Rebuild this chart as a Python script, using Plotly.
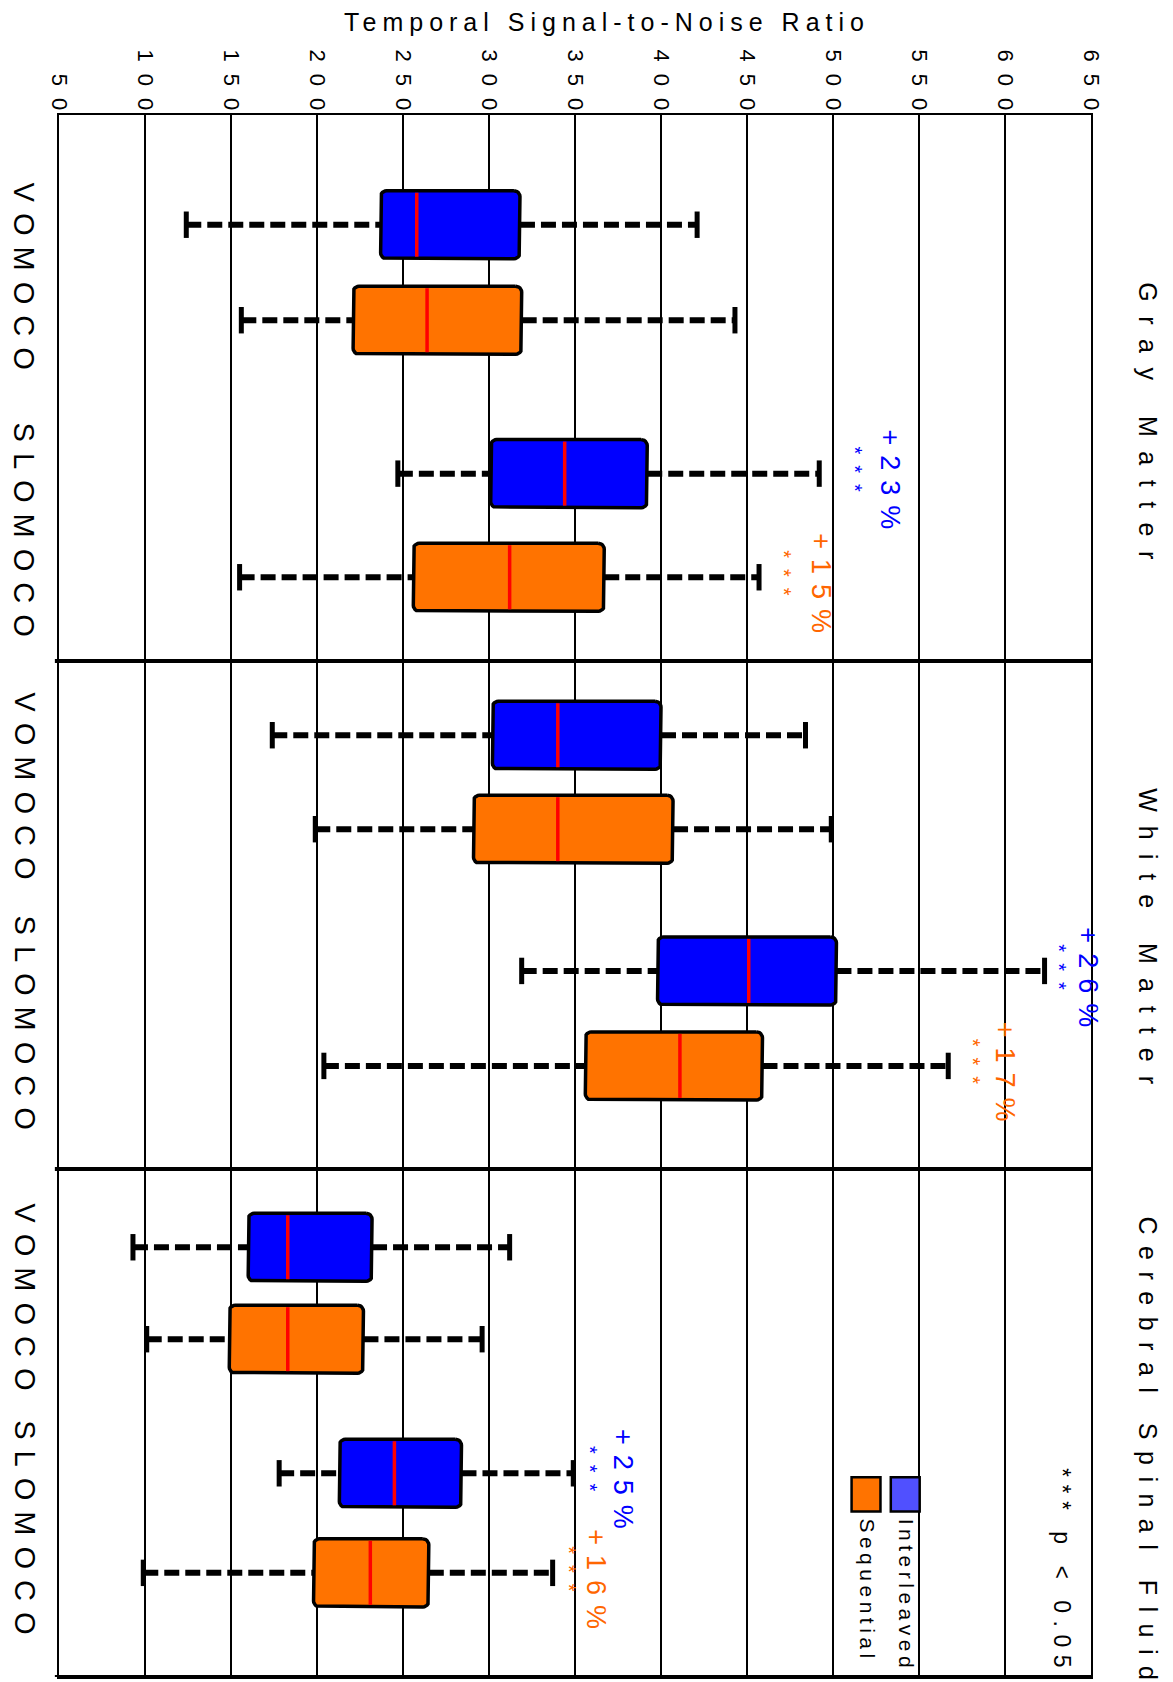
import math
import plotly.graph_objects as go

# Temporal SNR box statistics, indexed [tissue][method][sequence]
tissues = ["Gray Matter", "White Matter", "Cerebral Spinal Fluid"]
methods = ["VOMOCO", "SLOMOCO"]
sequences = ["Interleaved", "Sequential"]

whisker_low = [[[124, 156], [247, 155]],
               [[174, 199], [319, 204]],
               [[93, 101], [178, 99]]]
q1 = [[[237, 221], [301, 256]],
      [[302, 291], [398, 356]],
      [[160, 149], [213, 198]]]
median = [[[258, 264], [344, 312]],
          [[340, 340], [451, 411]],
          [[183, 183], [245, 231]]]
q3 = [[[318, 319], [392, 367]],
      [[400, 407], [502, 459]],
      [[232, 227], [284, 265]]]
whisker_high = [[[421, 443], [492, 457]],
                [[484, 499], [623, 567]],
                [[312, 296], [349, 337]]]

# SLOMOCO gain over VOMOCO (%), [tissue][sequence]
gain_pct = [[23, 15], [26, 17], [25, 16]]

tick_values = list(range(50, 651, 50))

# ---- styling / layout ----
FONT = "Liberation Sans, Arial, sans-serif"
BOX_FILL = ["#0000FF", "#FF7300"]
TEXT_COL = ["#0000FF", "#FF6600"]
LEGEND_FILL = ["#5050FF", "#FF7300"]
# row centres inside each tissue band (band height = 1 unit)
row_centres = [[0.141, 0.329, 0.631, 0.835],
               [0.146, 0.331, 0.610, 0.797],
               [0.154, 0.335, 0.599, 0.795]]
# pixel gap from the upper whisker cap to the "***" mark and to the gain label
mark_gap = [[(36, 71), (25, 62)],
            [(15, 44), (25, 57)],
            [(16, 49), (16, 43)]]
BOX_HALF = 0.067
CAP_HALF = 0.026
Y_TOP = -0.075
X_RANGE = (50, 650)
Y_RANGE = (3.0, Y_TOP)
PLOT_W, PLOT_H = 1032, 1564          # plot area in px
PX_X = PLOT_W / (X_RANGE[1] - X_RANGE[0])
PX_Y = PLOT_H / (Y_RANGE[0] - Y_RANGE[1])
CORNER_PX = 6


def spaced(text, px):
    """Letter-spaced text (no trailing space after the last glyph)."""
    if len(text) < 2:
        return text
    return f'<span style="letter-spacing:{px}px">{text[:-1]}</span>{text[-1]}'


def rounded_box(x0, x1, y0, y1, r_px=CORNER_PX, n=6):
    """Outline of a box with slightly rounded corners, in data units."""
    rx, ry = r_px / PX_X, r_px / PX_Y
    xs, ys = [], []
    corners = [(x1 - rx, y0 + ry, -90), (x1 - rx, y1 - ry, 0),
               (x0 + rx, y1 - ry, 90), (x0 + rx, y0 + ry, 180)]
    for cx, cy, start in corners:
        for k in range(n + 1):
            ang = math.radians(start + 90 * k / n)
            xs.append(cx + rx * math.cos(ang))
            ys.append(cy + ry * math.sin(ang))
    xs.append(xs[0])
    ys.append(ys[0])
    return xs, ys


fig = go.Figure()


def add_line(xs, ys, color="black", width=3, dash="solid"):
    fig.add_trace(go.Scatter(x=xs, y=ys, mode="lines", showlegend=False,
                             hoverinfo="skip",
                             line=dict(color=color, width=width, dash=dash)))


for t in range(len(tissues)):
    for m in range(len(methods)):
        for s in range(len(sequences)):
            yc = t + row_centres[t][2 * m + s]
            lo = whisker_low[t][m][s]
            a = q1[t][m][s]
            med = median[t][m][s]
            b = q3[t][m][s]
            hi = whisker_high[t][m][s]
            # whiskers
            add_line([lo, a], [yc, yc], width=6, dash="15px,6px")
            add_line([b, hi], [yc, yc], width=6, dash="15px,6px")
            add_line([lo, lo], [yc - CAP_HALF, yc + CAP_HALF], width=5)
            add_line([hi, hi], [yc - CAP_HALF, yc + CAP_HALF], width=5)
            # box
            bx, by = rounded_box(a, b, yc - BOX_HALF, yc + BOX_HALF)
            fig.add_trace(go.Scatter(
                x=bx, y=by, mode="lines", fill="toself", fillcolor=BOX_FILL[s],
                line=dict(color="black", width=3.5), showlegend=False,
                hoverinfo="skip"))
            # median
            add_line([med, med], [yc - BOX_HALF + 0.004, yc + BOX_HALF - 0.004],
                     color="#FF0000", width=3.5)

annotations = []

# significance marks and gains for SLOMOCO rows
for t in range(len(tissues)):
    for s in range(len(sequences)):
        yc = t + row_centres[t][2 + s]
        hi = whisker_high[t][1][s]
        g_mark, g_pct = mark_gap[t][s]
        annotations.append(dict(
            x=hi, y=yc, xref="x", yref="y", xshift=g_mark, yshift=4,
            text=spaced("***", 11), textangle=90, showarrow=False,
            font=dict(family=FONT, size=20, color=TEXT_COL[s])))
        annotations.append(dict(
            x=hi, y=yc, xref="x", yref="y", xshift=g_pct, yshift=-6,
            text=spaced(f"+{gain_pct[t][s]}%", 10), textangle=90, showarrow=False,
            font=dict(family=FONT, size=27, color=TEXT_COL[s])))

# method labels on the left
for t in range(len(tissues)):
    for m in range(len(methods)):
        yc = t + (row_centres[t][2 * m] + row_centres[t][2 * m + 1]) / 2
        annotations.append(dict(
            x=-0.033, y=yc + 0.008, xref="paper", yref="y", xanchor="center",
            yanchor="middle", text=spaced(methods[m], 11), textangle=90,
            showarrow=False, font=dict(family=FONT, size=29, color="black")))

# tissue labels on the right
tissue_label_start = [0.251, 1.246, 2.09]
tissue_label_spacing = [14.5, 14, 11.5]
for t in range(len(tissues)):
    annotations.append(dict(
        x=1.055, y=tissue_label_start[t], xref="paper", yref="y",
        xanchor="center", yanchor="top",
        text=spaced(tissues[t], tissue_label_spacing[t]),
        textangle=90, showarrow=False,
        font=dict(family=FONT, size=25, color="black")))

# axis title
annotations.append(dict(
    x=(604 - 59) / 1032, y=1, yref="paper", xref="paper", yshift=93,
    xanchor="center", yanchor="middle", showarrow=False,
    text=spaced("Temporal Signal-to-Noise Ratio", 6),
    font=dict(family=FONT, size=25, color="black")))

# p-value note
annotations.append(dict(
    x=0.972, y=2.585, xref="paper", yref="y", xanchor="center", yanchor="top",
    text=spaced("*** p < 0.05", 7.5), textangle=90, showarrow=False,
    font=dict(family=FONT, size=23, color="black")))

# legend
shapes = []
legend_x = [0.820, 0.782]
for s in range(len(sequences)):
    cx = legend_x[s]
    shapes.append(dict(type="rect", xref="paper", yref="y",
                       x0=cx - 0.0140, x1=cx + 0.0140, y0=2.607, y1=2.674,
                       fillcolor=LEGEND_FILL[s],
                       line=dict(color="black", width=2.5), layer="above"))
    annotations.append(dict(
        x=cx + 0.001, y=2.684, xref="paper", yref="y", xanchor="center", yanchor="top",
        text=spaced(sequences[s], 4.5), textangle=90, showarrow=False,
        font=dict(family=FONT, size=21, color="black")))

# band separators and bottom frame
for t in range(1, len(tissues) + 1):
    shapes.append(dict(type="line", xref="paper", yref="y", x0=-0.004, x1=1.0,
                       y0=t, y1=t, line=dict(color="black", width=4),
                       layer="above"))

fig.update_layout(
    width=1173, height=1682,
    margin=dict(l=59, r=82, t=115, b=3),
    paper_bgcolor="white", plot_bgcolor="white",
    font=dict(family=FONT, color="black"),
    showlegend=False,
    xaxis=dict(range=list(X_RANGE), side="top", tickmode="array",
               tickvals=tick_values,
               ticktext=[spaced(str(v), 12) for v in tick_values],
               tickangle=90, ticks="", showgrid=True, gridcolor="black",
               gridwidth=1.5, showline=True, linecolor="black", linewidth=2,
               mirror=True, zeroline=False, ticklabelstandoff=-5,
               tickfont=dict(family=FONT, size=22, color="black")),
    yaxis=dict(range=list(Y_RANGE), showticklabels=False, showgrid=False,
               zeroline=False, showline=True, linecolor="black", linewidth=2,
               mirror=True, ticks=""),
    annotations=annotations,
    shapes=shapes,
)

fig.write_html("out.html")
